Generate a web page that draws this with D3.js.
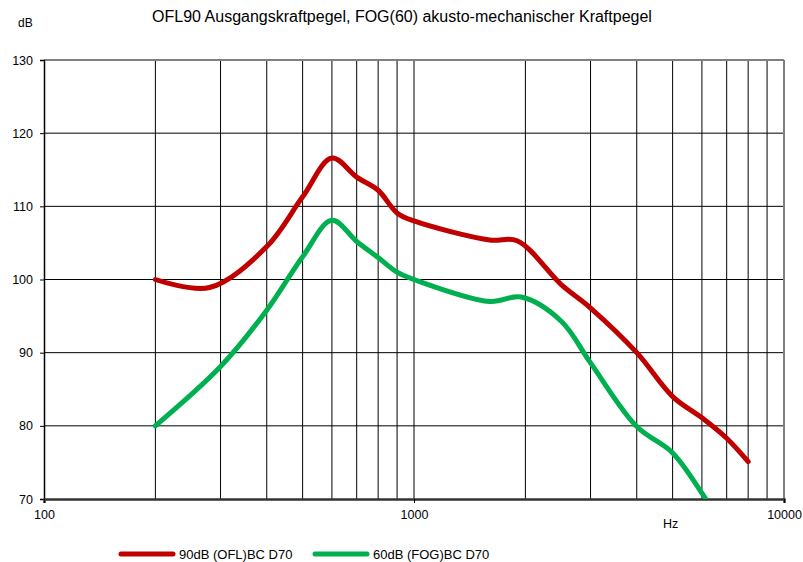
<!DOCTYPE html>
<html><head><meta charset="utf-8">
<script src="https://cdn.jsdelivr.net/npm/d3@7"></script>
<style>
body{margin:0;background:#fff;}
text{font-family:Arial,"Liberation Sans",sans-serif;fill:#000;}
</style></head><body>
<svg id="chart" width="803" height="562"></svg>
<script>
const title = "OFL90 Ausgangskraftpegel, FOG(60) akusto-mechanischer Kraftpegel";
const yTicks = [70, 80, 90, 100, 110, 120, 130];
const xTicks = [100, 1000, 10000];
const xGrid = [200,300,400,500,600,700,800,900,1000,2000,3000,4000,5000,6000,7000,8000,9000];
const seriesNames = ["90dB (OFL)BC D70", "60dB (FOG)BC D70"];
const seriesColors = ["#C00000", "#00B050"];
const ofl90Freq = [200,280,400,500,600,700,800,900,1000,1600,1900,2500,3000,4000,5000,6000,7000,8000];
const ofl90Val  = [100,98.9,104.5,111.3,116.6,114,112.2,109.1,108,105.4,105.3,99.3,96.1,90,84,81.1,78.3,75.1];
const fog60Freq = [200,300,400,500,600,700,800,900,1000,1600,1950,2500,3000,4000,5000,6000,6600];
const fog60Val  = [80,88.1,95.8,103.1,108.1,105.2,103,101,100,97,97.6,94.3,88.6,79.9,76.3,70.8,67.5];

const svg = d3.select("#chart");
const L = 44, R = 784, T = 60, B = 499;
const x = d3.scaleLog().domain([100, 10000]).range([L, R]);
const y = d3.scaleLinear().domain([70, 130]).range([B, T]);

svg.append("text").attr("x", 402).attr("y", 22).attr("text-anchor", "middle")
  .style("font-size", "16px").text(title);
svg.append("text").attr("x", 18).attr("y", 27).style("font-size", "12px").text("dB");
svg.append("text").attr("x", 663).attr("y", 528).style("font-size", "12.5px").text("Hz");

const grid = svg.append("g");
grid.selectAll("line.v").data(xGrid).join("line")
  .attr("x1", d => x(d)).attr("x2", d => x(d)).attr("y1", T).attr("y2", B)
  .attr("stroke", "#000").attr("stroke-width", 1);
grid.selectAll("line.h").data(yTicks.filter(d => d > 70 && d < 130)).join("line")
  .attr("x1", L).attr("x2", R).attr("y1", d => y(d)).attr("y2", d => y(d))
  .attr("stroke", "#000").attr("stroke-width", 1);
svg.append("line").attr("x1", L).attr("x2", R).attr("y1", T).attr("y2", T)
  .attr("stroke", "#808080").attr("stroke-width", 2);
svg.append("line").attr("x1", R).attr("x2", R).attr("y1", T).attr("y2", B)
  .attr("stroke", "#808080").attr("stroke-width", 2);

const yAxis = svg.append("g").attr("transform", `translate(${L},0)`)
  .call(d3.axisLeft(y).tickValues(yTicks).tickSize(4).tickPadding(7).tickFormat(d3.format("d")));
yAxis.select(".domain").attr("stroke", "#000").attr("stroke-width", 1.5);
yAxis.selectAll("text").style("font-size", "12.5px").style("font-family", "Arial, 'Liberation Sans', sans-serif");

const xAxis = svg.append("g").attr("transform", `translate(0,${B})`)
  .call(d3.axisBottom(x).tickValues(xTicks).tickSize(4).tickPadding(7).tickFormat(d3.format("d")));
xAxis.select(".domain").attr("stroke", "#333").attr("stroke-width", 2.5);
xAxis.selectAll("text").style("font-size", "12.5px").style("font-family", "Arial, 'Liberation Sans', sans-serif");

svg.append("clipPath").attr("id", "clip").append("rect")
  .attr("x", L).attr("y", T).attr("width", R - L).attr("height", B - T);

const line = d3.line().x(d => x(d[0])).y(d => y(d[1])).curve(d3.curveCatmullRom.alpha(0.5));
const series = [d3.zip(ofl90Freq, ofl90Val), d3.zip(fog60Freq, fog60Val)];
svg.append("g").attr("clip-path", "url(#clip)").selectAll("path").data(series).join("path")
  .attr("d", line).attr("fill", "none")
  .attr("stroke", (d, i) => seriesColors[i]).attr("stroke-width", 5)
  .attr("stroke-linecap", "round").attr("stroke-linejoin", "round");

const legendX = [121, 315];
const lg = svg.append("g");
seriesNames.forEach((n, i) => {
  lg.append("line").attr("x1", legendX[i]).attr("x2", legendX[i] + 52).attr("y1", 554).attr("y2", 554)
    .attr("stroke", seriesColors[i]).attr("stroke-width", 5).attr("stroke-linecap", "round");
  lg.append("text").attr("x", legendX[i] + 58).attr("y", 558.5).style("font-size", "13px").text(n);
});
</script>
</body></html>
